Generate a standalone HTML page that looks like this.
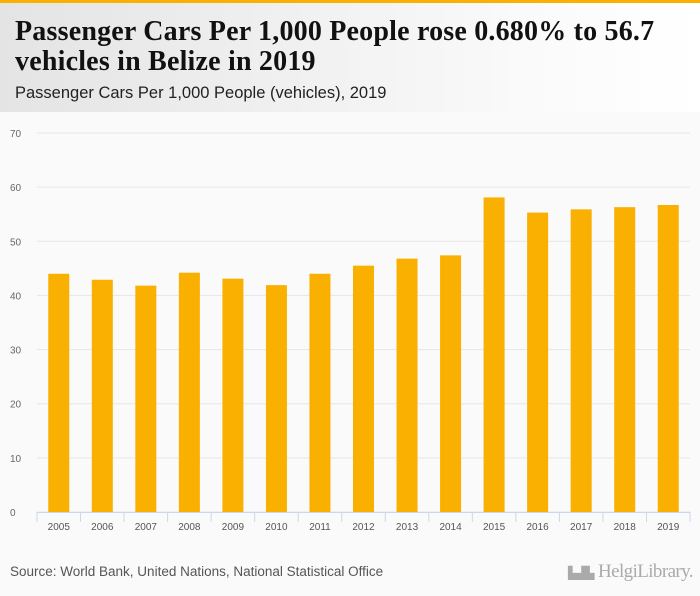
<!DOCTYPE html>
<html><head><meta charset="utf-8"><style>
body{margin:0;width:700px;height:596px;background:#fafafa;position:relative;overflow:hidden;font-family:"Liberation Sans",sans-serif}
#hdr{position:absolute;left:0;top:0;width:700px;height:112px;background:linear-gradient(to right,#e4e4e4,#fafafa 75%,#fff);border-top:3px solid #f9b000;box-sizing:border-box}
h1{position:absolute;left:15px;top:14px;margin:0;font:bold 28px/30px "Liberation Serif",serif;color:#111;letter-spacing:0.2px;white-space:nowrap}
#sub{position:absolute;left:15px;top:81px;font-size:16.5px;color:#222}
#src{position:absolute;left:10px;top:564px;font-size:13.5px;color:#555;white-space:nowrap}
#logo{position:absolute;left:568px;top:561px;font:19px "Liberation Serif",serif;color:#aaa;letter-spacing:-0.6px;white-space:nowrap}
</style></head><body>
<div id="hdr">
<h1>Passenger Cars Per 1,000 People rose 0.680% to 56.7<br>vehicles in Belize in 2019</h1>
<div id="sub">Passenger Cars Per 1,000 People (vehicles), 2019</div>
</div>
<svg id="chart" width="700" height="596" style="position:absolute;left:0;top:0"></svg>
<div id="src">Source: World Bank, United Nations, National Statistical Office</div>
<div id="logo"><span style="font-size:12px">▙▟▙</span> HelgiLibrary.</div>
<script>
const categories=["2005","2006","2007","2008","2009","2010","2011","2012","2013","2014","2015","2016","2017","2018","2019"];
const values=[44.0,42.9,41.8,44.2,43.1,41.9,44.0,45.5,46.8,47.4,58.1,55.3,55.9,56.3,56.7];
const yTicks=[0,10,20,30,40,50,60,70];
const svg=document.getElementById('chart');const NS='http://www.w3.org/2000/svg';
const x0=37,x1=690,y0=512,yTop=133,yMax=70;
const band=(x1-x0)/categories.length;
const y=v=>y0-(v/yMax)*(y0-yTop);
const xc=i=>x0+band*(i+0.5);
function mk(t,a){const e=document.createElementNS(NS,t);for(const k in a)e.setAttribute(k,a[k]);svg.appendChild(e);return e;}
yTicks.forEach(t=>{
 const g=mk('line',{x1:x0,x2:x1,y1:y(t),y2:y(t),stroke:'#e6e6e6'});
 
 
 const l=mk('text',{x:10,y:y(t)+4,'font-size':10,fill:'#666','font-family':'Liberation Sans'});l.textContent=t;
 
 
});
const ax=mk('line',{x1:x0,x2:x1,y1:y0+0.5,y2:y0+0.5,stroke:'#ccd6eb'});


categories.forEach((c,i)=>{
 const tk=mk('line',{x1:x0+band*i,x2:x0+band*i,y1:y0,y2:y0+10,stroke:'#ccd6eb'});
 
 
 const b=mk('rect',{x:xc(i)-10.5,y:y(values[i]),width:21,height:y0-y(values[i]),fill:'#f9b000'});
 
 
 const l=mk('text',{x:xc(i),y:530,'font-size':10,fill:'#555','text-anchor':'middle','font-family':'Liberation Sans'});l.textContent=c;
 
 
});
const e=mk('line',{x1:x1,x2:x1,y1:y0,y2:y0+10,stroke:'#ccd6eb'});


</script>
</body></html>
